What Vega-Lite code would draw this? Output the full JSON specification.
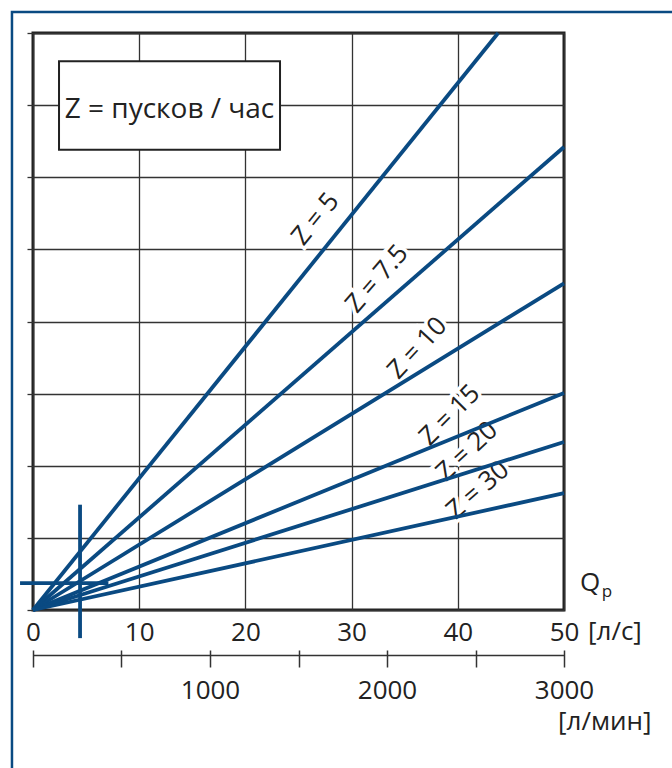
{
  "$schema": "https://vega.github.io/schema/vega-lite/v6.json",
  "width": 531,
  "height": 577,
  "autosize": {"type": "none"},
  "padding": {"left": 33, "top": 33, "right": 108, "bottom": 158},
  "background": "white",
  "config": {
    "view": {"stroke": "#222222", "strokeWidth": 3},
    "font": "Open Sans",
    "axis": {"labelFont": "Open Sans", "labelColor": "#222222", "titleFont": "Open Sans"}
  },
  "datasets": {
    "lines": [
      {"Z": "5", "q": 0, "v": 0}, {"Z": "5", "q": 43.8, "v": 8},
      {"Z": "7.5", "q": 0, "v": 0}, {"Z": "7.5", "q": 50, "v": 6.42},
      {"Z": "10", "q": 0, "v": 0}, {"Z": "10", "q": 50, "v": 4.53},
      {"Z": "15", "q": 0, "v": 0}, {"Z": "15", "q": 50, "v": 3.01},
      {"Z": "20", "q": 0, "v": 0}, {"Z": "20", "q": 50, "v": 2.33},
      {"Z": "30", "q": 0, "v": 0}, {"Z": "30", "q": 50, "v": 1.62}
    ],
    "labels": [
      {"Z": "5", "label": "Z = 5", "q": 26.6, "v": 5.42},
      {"Z": "7.5", "label": "Z = 7.5", "q": 32.4, "v": 4.59},
      {"Z": "10", "label": "Z = 10", "q": 36.2, "v": 3.63},
      {"Z": "15", "label": "Z = 15", "q": 39.26, "v": 2.7},
      {"Z": "20", "label": "Z = 20", "q": 40.87, "v": 2.2},
      {"Z": "30", "label": "Z = 30", "q": 41.9, "v": 1.66}
    ]
  },
  "layer": [
    {
      "data": {"values": [{"q": -1.98, "q2": 70, "v": 8.29, "v2": -20}]},
      "mark": {"type": "rect", "fillOpacity": 0, "stroke": "#0a4a82", "strokeWidth": 2.5},
      "encoding": {
        "x": {"field": "q", "type": "quantitative", "scale": {"domain": [0, 50], "nice": false, "zero": false},
          "axis": {"orient": "bottom", "title": null, "values": [0, 10, 20, 30, 40, 50], "grid": true, "gridColor": "#333333", "gridWidth": 1.3, "gridOpacity": 1, "domain": false, "ticks": false, "tickSize": 0, "labelPadding": 9, "labelFontSize": 26, "labelFlush": false, "labelOverlap": false}},
        "x2": {"field": "q2"},
        "y": {"field": "v", "type": "quantitative", "scale": {"domain": [0, 8], "nice": false, "zero": false},
          "axis": {"orient": "left", "title": null, "values": [0, 1, 2, 3, 4, 5, 6, 7, 8], "grid": true, "gridColor": "#333333", "gridWidth": 1.3, "gridOpacity": 1, "domain": false, "ticks": true, "tickSize": 6, "tickWidth": 1.3, "tickColor": "#333333", "labels": false}},
        "y2": {"field": "v2"}
      }
    },
    {
      "data": {"values": [{"q": 2.45, "q2": 23.26, "v": 7.61, "v2": 6.38}]},
      "mark": {"type": "rect", "fill": "white", "stroke": "#222222", "strokeWidth": 2},
      "encoding": {
        "x": {"field": "q", "type": "quantitative", "axis": null},
        "x2": {"field": "q2"},
        "y": {"field": "v", "type": "quantitative", "axis": null},
        "y2": {"field": "v2"}
      }
    },
    {
      "data": {"values": [{"q": 12.85, "v": 6.93, "label": "Z = пусков / час"}]},
      "mark": {"type": "text", "fontSize": 28, "font": "Open Sans", "color": "#222222", "align": "center", "baseline": "middle"},
      "encoding": {
        "x": {"field": "q", "type": "quantitative", "axis": null},
        "y": {"field": "v", "type": "quantitative", "axis": null},
        "text": {"field": "label"}
      }
    },
    {
      "data": {"name": "labels"},
      "mark": {"type": "text", "fontSize": 26, "font": "Open Sans", "fill": "white", "stroke": "white", "strokeWidth": 7, "align": "center", "baseline": "middle"},
      "encoding": {
        "x": {"field": "q", "type": "quantitative", "axis": null},
        "y": {"field": "v", "type": "quantitative", "axis": null},
        "text": {"field": "label"},
        "angle": {"field": "Z", "type": "nominal", "scale": {"domain": ["5", "7.5", "10", "15", "20", "30"], "range": [309, 318.8, 328.4, 337.7, 342.3, 347.6]}, "legend": null}
      }
    },
    {
      "data": {"name": "labels"},
      "mark": {"type": "text", "fontSize": 26, "font": "Open Sans", "color": "#222222", "align": "center", "baseline": "middle"},
      "encoding": {
        "x": {"field": "q", "type": "quantitative", "axis": null},
        "y": {"field": "v", "type": "quantitative", "axis": null},
        "text": {"field": "label"},
        "angle": {"field": "Z", "type": "nominal", "scale": {"domain": ["5", "7.5", "10", "15", "20", "30"], "range": [309, 318.8, 328.4, 337.7, 342.3, 347.6]}, "legend": null}
      }
    },
    {
      "data": {"name": "lines"},
      "mark": {"type": "line", "color": "#0a4a82", "strokeWidth": 3.8, "strokeCap": "butt"},
      "encoding": {
        "x": {"field": "q", "type": "quantitative",
          "axis": {"orient": "bottom", "offset": 40, "title": null, "values": [0, 8.33333, 16.66667, 25, 33.33333, 41.66667, 50], "grid": false, "domain": false, "ticks": true, "tickSize": 17, "tickWidth": 1.5, "tickColor": "#333333", "labels": false}},
        "y": {"field": "v", "type": "quantitative", "axis": null},
        "detail": {"field": "Z"}
      }
    },
    {
      "data": {"values": [{"q": 4.43, "v": 1.46, "v2": -0.39}]},
      "mark": {"type": "rule", "color": "#0a4a82", "strokeWidth": 3.8},
      "encoding": {
        "x": {"field": "q", "type": "quantitative",
          "axis": {"orient": "bottom", "offset": 45, "title": null, "values": [16.66667, 33.33333, 50], "labelExpr": "format(datum.value * 60, 'd')", "grid": false, "domain": true, "domainColor": "#333333", "domainWidth": 1.5, "ticks": false, "tickSize": 0, "labelPadding": 22, "labelFontSize": 26, "labelFlush": false, "labelOverlap": false,
            "encode": {"labels": {"update": {"dx": {"signal": "datum.value < 20 ? -2 : (datum.value < 40 ? -20 : -16)"}}}}}},
        "y": {"field": "v", "type": "quantitative", "axis": null},
        "y2": {"field": "v2"}
      }
    },
    {
      "data": {"values": [{"q": -1.22, "q2": 7.1, "v": 0.374}]},
      "mark": {"type": "rule", "color": "#0a4a82", "strokeWidth": 3.8},
      "encoding": {
        "x": {"field": "q", "type": "quantitative", "axis": null},
        "x2": {"field": "q2"},
        "y": {"field": "v", "type": "quantitative", "axis": null}
      }
    },
    {
      "data": {"values": [{"q": 52.45, "v": 0.374, "label": "Q"}]},
      "mark": {"type": "text", "fontSize": 26, "font": "Open Sans", "color": "#222222", "align": "center", "baseline": "middle"},
      "encoding": {
        "x": {"field": "q", "type": "quantitative", "axis": null},
        "y": {"field": "v", "type": "quantitative", "axis": null},
        "text": {"field": "label"}
      }
    },
    {
      "data": {"values": [{"q": 54.05, "v": 0.25, "label": "p"}]},
      "mark": {"type": "text", "fontSize": 17, "font": "Open Sans", "color": "#222222", "align": "center", "baseline": "middle"},
      "encoding": {
        "x": {"field": "q", "type": "quantitative", "axis": null},
        "y": {"field": "v", "type": "quantitative", "axis": null},
        "text": {"field": "label"}
      }
    },
    {
      "data": {"values": [{"q": 52.26, "v": -0.305, "label": "[л/с]"}, {"q": 49.44, "v": -1.553, "label": "[л/мин]"}]},
      "mark": {"type": "text", "fontSize": 26, "font": "Open Sans", "color": "#222222", "align": "left", "baseline": "middle"},
      "encoding": {
        "x": {"field": "q", "type": "quantitative", "axis": null},
        "y": {"field": "v", "type": "quantitative", "axis": null},
        "text": {"field": "label"}
      }
    }
  ],
  "resolve": {"axis": {"x": "independent", "y": "independent"}}
}
